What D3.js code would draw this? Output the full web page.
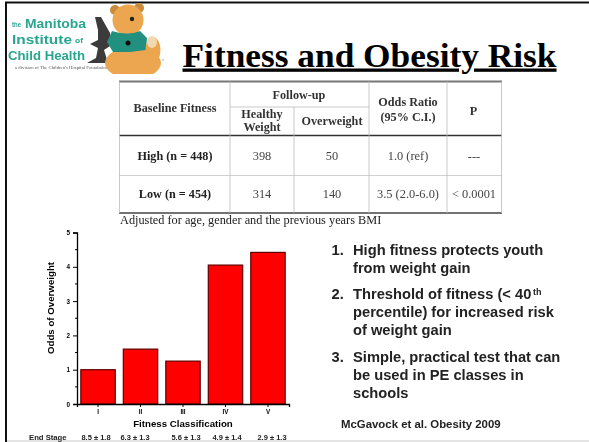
<!DOCTYPE html>
<html>
<head>
<meta charset="utf-8">
<script src="https://cdn.jsdelivr.net/npm/d3@7"></script>
<style>
body { margin: 0; background: #fff; overflow: hidden; }
svg { display: block; }
</style>
</head>
<body>
<svg width="589" height="442"></svg>
<script>
// chart values
const classes = ["I", "II", "III", "IV", "V"];
const odds = [1.0, 1.6, 1.25, 4.05, 4.42];
const endStage = ["8.5 ± 1.8", "6.3 ± 1.3", "5.6 ± 1.3", "4.9 ± 1.4", "2.9 ± 1.3"];
const yTicks = [0, 1, 2, 3, 4, 5];

// table values
const rowLabels = ["High (n = 448)", "Low (n = 454)"];
const healthy = ["398", "314"];
const overweight = ["50", "140"];
const oddsRatio = ["1.0 (ref)", "3.5 (2.0-6.0)"];
const pValues = ["---", "< 0.0001"];

const bullets = [
    ["1.", "High fitness protects youth", "from weight gain"],
    ["2.", "Threshold of fitness (< 40", "percentile) for increased risk", "of weight gain"],
    ["3.", "Simple, practical test that can", "be used in PE classes in", "schools"]
];

const svg = d3.select("svg");
const defs = svg.append("defs");
defs.append("filter").attr("id", "soft")
    .append("feGaussianBlur").attr("stdDeviation", 0.45);
defs.append("filter").attr("id", "soft2")
    .append("feGaussianBlur").attr("stdDeviation", 0.4);
defs.append("filter").attr("id", "soft3")
    .append("feGaussianBlur").attr("stdDeviation", 0.22);
defs.append("clipPath").attr("id", "logoClip")
    .append("rect").attr("x", 8).attr("y", 3).attr("width", 160).attr("height", 71);

// slide frame
svg.append("rect").attr("x", 0).attr("y", 0).attr("width", 589).attr("height", 442).attr("fill", "#fff");
svg.append("path").attr("d", "M6,442V2.5H589").attr("fill", "none").attr("stroke", "#111").attr("stroke-width", 2);
svg.append("rect").attr("x", 7).attr("y", 440).attr("width", 582).attr("height", 2).attr("fill", "#e4e4e4");

// logo
const logo = svg.append("g").attr("filter", "url(#soft)").attr("clip-path", "url(#logoClip)");
logo.selectAll("text.logo").data([
    {t: "the", x: 12, y: 27, s: 6.5, w: 9},
    {t: "Manitoba", x: 25, y: 28, s: 13.5, w: 61},
    {t: "Institute", x: 12, y: 44, s: 13.5, w: 60},
    {t: "of", x: 75, y: 43, s: 8, w: 8},
    {t: "Child Health", x: 8, y: 60, s: 13.5, w: 77}
]).enter().append("text")
    .attr("x", d => d.x).attr("y", d => d.y)
    .attr("font-family", "'Liberation Sans', sans-serif")
    .attr("font-size", d => d.s)
    .attr("font-weight", "bold")
    .attr("textLength", d => d.w)
    .attr("lengthAdjust", "spacingAndGlyphs")
    .attr("fill", "#2aa58f")
    .text(d => d.t);
logo.append("text").attr("x", 15).attr("y", 69).attr("font-family", "'Liberation Serif', serif")
    .attr("font-size", 4.5).attr("textLength", 93).attr("lengthAdjust", "spacingAndGlyphs")
    .attr("fill", "#555").text("a division of The Children's Hospital Foundation");

// microscope
logo.append("path").attr("d", "M95,17 L101,17 L110,33 L110,46 L104,50 L108,63 L87,63 L96,58 L98,48 L90,44 L98,40 L98,30 Z").attr("fill", "#3a3a3a");

// bear
const bearBrown = "#eba64f";
logo.append("ellipse").attr("cx", 133).attr("cy", 63).attr("rx", 28).attr("ry", 16).attr("fill", bearBrown);
logo.append("circle").attr("cx", 115).attr("cy", 10).attr("r", 5).attr("fill", "#c98a3a");
logo.append("circle").attr("cx", 139).attr("cy", 8).attr("r", 5).attr("fill", "#c98a3a");
logo.append("ellipse").attr("cx", 128).attr("cy", 20).attr("rx", 15.5).attr("ry", 15.5).attr("fill", bearBrown);
logo.append("path").attr("d", "M112,31 Q128,36 140,31 L147,38 L146,50 L130,52 L113,52 L107,42 Z").attr("fill", "#23907f");
logo.append("ellipse").attr("cx", 153).attr("cy", 50).attr("rx", 7.5).attr("ry", 13).attr("fill", bearBrown);
logo.append("ellipse").attr("cx", 152).attr("cy", 42).attr("rx", 5).attr("ry", 6).attr("fill", "#f3d9b0");
logo.append("circle").attr("cx", 132).attr("cy", 19).attr("r", 2.2).attr("fill", "#222");
logo.append("circle").attr("cx", 128).attr("cy", 43).attr("r", 2.5).attr("fill", "#111");
svg.append("circle").attr("cx", 163).attr("cy", 60).attr("r", 0.7).attr("fill", "#888");

// title
svg.append("text")
    .attr("x", 182.5).attr("y", 66.5)
    .attr("font-family", "'Liberation Serif', serif")
    .attr("font-size", 33)
    .attr("font-weight", "bold")
    .attr("textLength", 374)
    .attr("lengthAdjust", "spacingAndGlyphs")
    .attr("text-decoration", "underline")
    .text("Fitness and Obesity Risk");

// table
const table = svg.append("g").attr("filter", "url(#soft2)");
const tableLines = [
    {x1: 119, x2: 502, y1: 81.5, y2: 81.5, w: 2, c: "#777"},
    {x1: 230, x2: 369, y1: 107, y2: 107, w: 0.8, c: "#bbb"},
    {x1: 119, x2: 502, y1: 135.5, y2: 135.5, w: 1.5, c: "#333"},
    {x1: 119, x2: 502, y1: 175.5, y2: 175.5, w: 0.8, c: "#c4c4c4"},
    {x1: 119, x2: 502, y1: 213, y2: 213, w: 1.5, c: "#444"},
    {x1: 119.5, x2: 119.5, y1: 81.5, y2: 213, w: 0.8, c: "#bbb"},
    {x1: 230, x2: 230, y1: 81.5, y2: 213, w: 0.8, c: "#bbb"},
    {x1: 294, x2: 294, y1: 107, y2: 213, w: 0.8, c: "#bbb"},
    {x1: 369, x2: 369, y1: 81.5, y2: 213, w: 0.8, c: "#bbb"},
    {x1: 447, x2: 447, y1: 81.5, y2: 213, w: 0.8, c: "#bbb"},
    {x1: 501.5, x2: 501.5, y1: 81.5, y2: 213, w: 0.8, c: "#bbb"}
];
table.selectAll("line").data(tableLines).enter().append("line")
    .attr("x1", d => d.x1).attr("x2", d => d.x2)
    .attr("y1", d => d.y1).attr("y2", d => d.y2)
    .attr("stroke-width", d => d.w).attr("stroke", d => d.c);

const colX = [175, 262, 332, 408, 474];
const rowY = [160, 198];
const headCells = [
    {t: "Follow-up", x: 299, y: 98.5},
    {t: "Baseline Fitness", x: 175, y: 112},
    {t: "Healthy", x: 262, y: 117.5},
    {t: "Weight", x: 262, y: 131},
    {t: "Overweight", x: 332, y: 125},
    {t: "Odds Ratio", x: 408, y: 106},
    {t: "(95% C.I.)", x: 408, y: 120.5},
    {t: "P", x: 473.5, y: 115}
];
table.selectAll("text.head").data(headCells).enter().append("text")
    .attr("x", d => d.x).attr("y", d => d.y)
    .attr("text-anchor", "middle")
    .attr("font-family", "'Liberation Serif', serif")
    .attr("font-size", 12.2).attr("font-weight", "bold")
    .attr("fill", "#333")
    .text(d => d.t);

rowLabels.forEach((label, i) => {
    const cells = [label, healthy[i], overweight[i], oddsRatio[i], pValues[i]];
    table.selectAll("text.row" + i).data(cells).enter().append("text")
        .attr("x", (d, j) => colX[j]).attr("y", rowY[i])
        .attr("text-anchor", "middle")
        .attr("font-family", "'Liberation Serif', serif")
        .attr("font-size", (d, j) => j == 0 ? 12.2 : 12.4)
        .attr("font-weight", (d, j) => j == 0 ? "bold" : "normal")
        .attr("fill", (d, j) => j == 0 ? "#222" : "#444")
        .text(d => d);
});

svg.append("text").attr("x", 120).attr("y", 224)
    .attr("font-family", "'Liberation Serif', serif")
    .attr("font-size", 12.3).attr("fill", "#222").attr("filter", "url(#soft2)")
    .text("Adjusted for age, gender and the previous years BMI");

// bar chart
const chartFont = "'Liberation Sans', sans-serif";
const x = d3.scaleBand().domain(classes).range([77, 289]).paddingInner(0.19).paddingOuter(0.09);
const y = d3.scaleLinear().domain([0, 5]).range([404, 232.5]);

const chart = svg.append("g").attr("filter", "url(#soft3)");

chart.selectAll("rect.bar").data(odds).enter().append("rect")
    .attr("class", "bar")
    .attr("x", (d, i) => x(classes[i]))
    .attr("y", d => y(d))
    .attr("width", x.bandwidth())
    .attr("height", d => y(0) - y(d))
    .attr("fill", "#ff0000")
    .attr("stroke", "#600000")
    .attr("stroke-width", 1.2);

const yAxis = chart.append("g").attr("transform", "translate(77,0)")
    .call(d3.axisLeft(y).tickValues(yTicks).tickFormat(d3.format("d")).tickSize(4));
const xAxis = chart.append("g").attr("transform", "translate(0,404)")
    .call(d3.axisBottom(x).tickSize(3));
// minor ticks on the y axis
yAxis.selectAll("line.minor").data(d3.range(0, 5).map(d => d + 0.5)).enter().append("line")
    .attr("class", "minor").attr("x1", -2).attr("x2", 0)
    .attr("y1", d => y(d)).attr("y2", d => y(d)).attr("stroke", "#000");

[yAxis, xAxis].forEach(a => {
    a.selectAll(".domain").attr("stroke", "#000").attr("stroke-width", 1.3);
    a.selectAll("text").attr("font-family", chartFont).attr("font-size", 6.3)
        .attr("font-weight", "bold").attr("fill", "#000");
});
xAxis.selectAll("text").attr("y", 6);

chart.append("text")
    .attr("transform", "translate(54,308) rotate(-90)")
    .attr("text-anchor", "middle")
    .attr("font-family", chartFont).attr("font-size", 9.7).attr("font-weight", "bold")
    .text("Odds of Overweight");

chart.append("text")
    .attr("x", 183).attr("y", 427)
    .attr("text-anchor", "middle")
    .attr("font-family", chartFont).attr("font-size", 9.7).attr("font-weight", "bold")
    .text("Fitness Classification");

chart.append("text")
    .attr("x", 29).attr("y", 439.5)
    .attr("font-family", chartFont).attr("font-size", 7.7).attr("font-weight", "bold")
    .attr("fill", "#222")
    .text("End Stage");

const endX = [96, 135, 186, 227, 272];
chart.selectAll("text.end").data(endStage).enter().append("text")
    .attr("class", "end")
    .attr("x", (d, i) => endX[i]).attr("y", 439.5)
    .attr("text-anchor", "middle")
    .attr("font-family", chartFont).attr("font-size", 7.5).attr("font-weight", "bold")
    .attr("fill", "#222")
    .text(d => d);

// bullet list
const bulletY = [255, 299, 362];
const list = svg.append("g").attr("filter", "url(#soft3)")
    .attr("font-family", chartFont).attr("font-size", 14.7).attr("font-weight", "bold").attr("fill", "#222");
bullets.forEach((b, i) => {
    list.append("text").attr("x", 331.5).attr("y", bulletY[i]).text(b[0]);
    list.selectAll("text.l" + i).data(b.slice(1)).enter().append("text")
        .attr("x", 353).attr("y", (d, j) => bulletY[i] + j * 17.8)
        .text(d => d);
});
// superscript after "40"
list.append("text").attr("x", 533).attr("y", 295).attr("font-size", 9).attr("font-weight", "bold").text("th");

svg.append("text").attr("x", 341).attr("y", 428)
    .attr("font-family", chartFont).attr("font-size", 11.4).attr("font-weight", "bold").attr("fill", "#222")
    .attr("filter", "url(#soft3)")
    .text("McGavock et al. Obesity 2009");
</script>
</body>
</html>
